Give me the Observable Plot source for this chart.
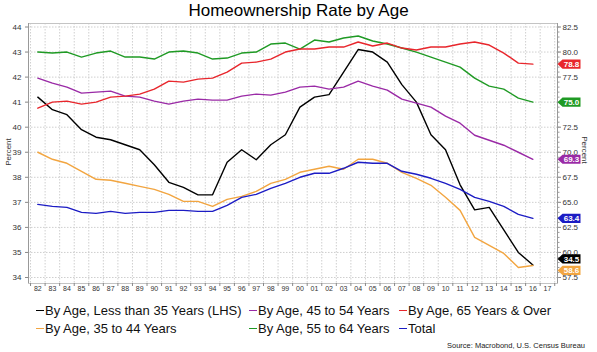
<!DOCTYPE html>
<html><head><meta charset="utf-8">
<script src="https://cdn.jsdelivr.net/npm/d3@7"></script>
<script src="https://cdn.jsdelivr.net/npm/@observablehq/plot@0.6"></script>
<style>
body{margin:0;background:#fff;font-family:Arial,"Liberation Sans",sans-serif;}
#wrap{position:relative;width:597px;height:352px;overflow:hidden;background:#fff;}
#title{position:absolute;left:0;top:0;width:597px;text-align:center;font-size:17px;line-height:22px;color:#000;}
#chart{position:absolute;left:0;top:20px;}
.pct{position:absolute;width:40px;height:10px;line-height:10px;text-align:center;font-size:8px;color:#333;white-space:nowrap;}
.leg{position:absolute;font-size:13px;line-height:17px;color:#111;white-space:nowrap;}
.leg .d{display:inline-block;width:8px;height:1.6px;vertical-align:middle;margin-right:1px;position:relative;top:-1px;}
#src{position:absolute;right:12px;top:341px;font-size:7.5px;color:#222;}
</style></head>
<body><div id="wrap">
<div id="title">Homeownership Rate by Age</div>
<div id="chart"></div>
<div class="pct" style="left:-11px;top:147px;transform:rotate(-90deg);">Percent</div>
<div class="pct" style="left:564px;top:145px;transform:rotate(90deg);">Percent</div>
<div id="legend"></div>
<div id="src">Source: Macrobond, U.S. Census Bureau</div>
</div>
<script>
const years = [1982,1983,1984,1985,1986,1987,1988,1989,1990,1991,1992,1993,1994,1995,1996,1997,1998,1999,2000,2001,2002,2003,2004,2005,2006,2007,2008,2009,2010,2011,2012,2013,2014,2015,2016];
const under35 = [41.2,40.7,40.5,39.9,39.6,39.5,39.3,39.1,38.5,37.8,37.6,37.3,37.3,38.6,39.1,38.7,39.3,39.7,40.8,41.2,41.3,42.2,43.1,43.0,42.6,41.7,41.0,39.7,39.1,37.7,36.7,36.8,35.9,35.0,34.5];
const age35to44 = [70.0,69.3,68.9,68.1,67.3,67.2,66.9,66.6,66.3,65.8,65.1,65.1,64.6,65.3,65.6,66.1,66.9,67.3,68.0,68.3,68.6,68.3,69.3,69.3,68.9,68.0,67.4,66.7,65.5,64.2,61.5,60.7,59.9,58.5,58.7];
const age45to54 = [77.4,76.9,76.5,75.9,76.0,76.1,75.6,75.5,75.1,74.8,75.1,75.3,75.2,75.2,75.6,75.8,75.7,76.0,76.5,76.6,76.3,76.5,77.1,76.6,76.2,75.3,74.9,74.5,73.6,72.9,71.7,71.2,70.7,70.0,69.3];
const age55to64 = [80.0,79.9,80.0,79.5,79.9,80.1,79.5,79.5,79.3,80.0,80.1,79.9,79.3,79.4,79.9,80.0,80.8,80.9,80.3,81.2,81.0,81.4,81.6,81.1,80.8,80.4,80.0,79.5,79.0,78.5,77.4,76.6,76.3,75.4,75.0];
const age65plus = [74.4,75.0,75.1,74.8,75.0,75.5,75.6,75.8,76.3,77.1,77.0,77.3,77.4,78.0,78.9,79.0,79.3,80.0,80.3,80.3,80.5,80.5,81.0,80.6,80.9,80.4,80.2,80.5,80.5,80.8,81.0,80.7,79.9,78.9,78.8];
const total = [64.8,64.6,64.5,64.0,63.9,64.1,63.9,64.0,64.0,64.2,64.2,64.1,64.1,64.7,65.5,65.8,66.4,66.9,67.5,67.9,67.9,68.4,69.0,68.9,68.9,68.1,67.8,67.4,66.9,66.3,65.5,65.1,64.6,63.8,63.4];

const seriesNames = ["By Age, Less than 35 Years (LHS)","By Age, 35 to 44 Years","By Age, 45 to 54 Years","By Age, 55 to 64 Years","By Age, 65 Years & Over","Total"];
const seriesValues = [under35, age35to44, age45to54, age55to64, age65plus, total];
const seriesAxis = ["left","right","right","right","right","right"];
const seriesColors = ["#000000","#f2a540","#9a2aa6","#1f9a24","#e8262c","#1c1cc4"];
const tagLabels = [34.5, 58.6, 69.3, 75.0, 78.8, 63.4];
const tagShift = [-6, 4, 0, 0, 0, 0];

const leftTicks = [34,35,36,37,38,39,40,41,42,43,44];
const rightTicks = [57.5,60.0,62.5,65.0,67.5,70.0,72.5,75.0,77.5,80.0,82.5];

// right axis (RHS) -> left axis units
const toLeft = r => 34 + (r - 57.5) / 2.5;
const toRight = l => 57.5 + (l - 34) * 2.5;

const rows = [];
seriesNames.forEach((name, i) => {
  seriesValues[i].forEach((v, j) => {
    rows.push({series: name, year: years[j], y: seriesAxis[i] === "left" ? v : toLeft(v)});
  });
});

const boundaries = d3.range(years[0] - 0.5, years[years.length - 1] + 1.6, 1);
const labelYears = years.concat([years[years.length - 1] + 1]);
const minorRight = d3.range(57.5, 82.51, 0.5).map(toLeft);

const tagSymbol = {draw(ctx){ctx.moveTo(0,0);ctx.lineTo(5,-4.6);ctx.lineTo(23,-4.6);ctx.lineTo(23,4.6);ctx.lineTo(5,4.6);ctx.closePath();}};

const tagMarks = seriesNames.flatMap((name, i) => {
  const d = [{y: seriesAxis[i] === "left" ? tagLabels[i] : toLeft(tagLabels[i]), label: tagLabels[i]}];
  return [
    Plot.dot(d, {y: "y", frameAnchor: "right", symbol: tagSymbol, fill: seriesColors[i], stroke: "none", dy: tagShift[i]}),
    Plot.text(d, {y: "y", frameAnchor: "right", textAnchor: "middle", dx: 14, dy: tagShift[i], text: t => t.label.toFixed(1), fill: "white", fontSize: 8, fontWeight: "bold"})
  ];
});

const chart = Plot.plot({
  width: 597, height: 280,
  marginLeft: 28, marginRight: 40, marginTop: 3, marginBottom: 17,
  style: {fontFamily: "Arial, 'Liberation Sans', sans-serif", background: "white"},
  x: {domain: [1981.36, 2017.69], axis: null},
  y: {domain: [33.76, 44.14], axis: null},
  color: {domain: seriesNames, range: seriesColors},
  marks: [
    Plot.gridX(boundaries, {stroke: "#cfcfcf", strokeOpacity: 1, strokeDasharray: "1.5,1.5"}),
    Plot.gridY(leftTicks, {stroke: "#cfcfcf", strokeOpacity: 1, strokeDasharray: "1.5,1.5"}),
    Plot.frame({stroke: "#c4c4c4"}),
    Plot.axisY(leftTicks, {anchor: "left", tickSize: 3, tickPadding: 4, fontSize: 8, fill: "#333", stroke: "#888", label: null}),
    Plot.axisY(rightTicks.map(toLeft), {anchor: "right", tickSize: 3, tickPadding: 2, fontSize: 8, fill: "#333", stroke: "#888", label: null, tickFormat: l => toRight(l).toFixed(1)}),
    Plot.axisY(minorRight, {anchor: "right", tickSize: 1.5, stroke: "#999", label: null, tickFormat: () => ""}),
    Plot.axisX(boundaries, {anchor: "bottom", tickSize: 3, stroke: "#888", label: null, tickFormat: () => ""}),
    Plot.axisX(labelYears, {anchor: "bottom", tickSize: 0, tickPadding: 3, fontSize: 7, fill: "#333", label: null, tickFormat: d => String(d % 100).padStart(2, "0")}),
    Plot.ruleX([1981.36], {stroke: "#999"}),
    Plot.ruleX([2017.69], {stroke: "#999"}),
    Plot.lineY(rows, {x: "year", y: "y", z: "series", stroke: "series", strokeWidth: 1.4}),
    ...tagMarks
  ]
});
document.getElementById("chart").appendChild(chart);

// legend
const legPos = [[36,302],[36,320],[249,302],[249,320],[399,302],[399,320]];
const legend = document.getElementById("legend");
seriesNames.forEach((name, i) => {
  const el = document.createElement("div");
  el.className = "leg";
  el.style.left = legPos[i][0] + "px";
  el.style.top = legPos[i][1] + "px";
  el.innerHTML = `<span class="d" style="background:${seriesColors[i]}"></span>`;
  el.appendChild(document.createTextNode(name));
  legend.appendChild(el);
});
</script>
</body></html>
